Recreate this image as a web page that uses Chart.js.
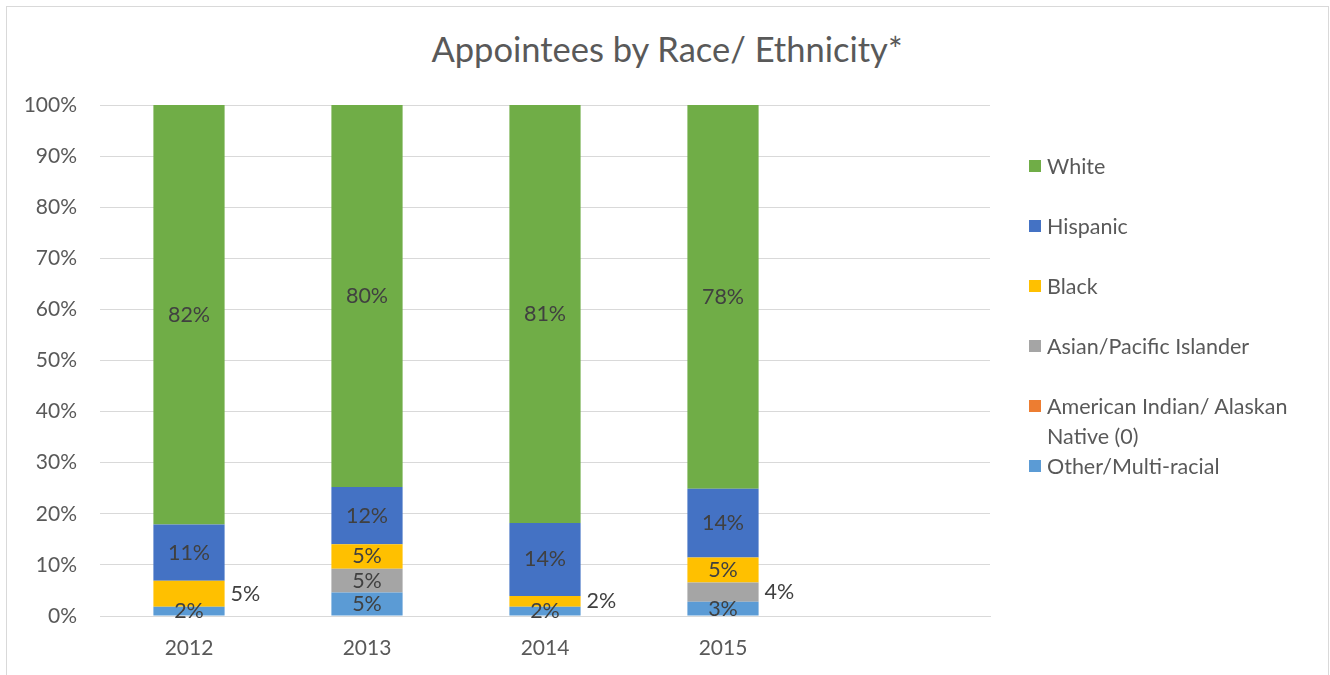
<!DOCTYPE html>
<html lang="en">
<head>
    <meta charset="UTF-8">
    <title>Appointees by Race/ Ethnicity</title>
    <script src="https://cdn.jsdelivr.net/npm/chart.js"></script>
    <style>
        body {
            margin: 0;
            padding: 0;
            background-color: #fff;
            font-family: Lato, "Open Sans", sans-serif;
            overflow: hidden;
        }

        .frame {
            position: absolute;
            left: 6px;
            top: 6px;
            width: 1321px;
            height: 720px;
            border: 1px solid #d9d9d9;
        }

        h1 {
            position: absolute;
            left: 0;
            width: 1334px;
            top: 28px;
            margin: 0;
            text-align: center;
            font-weight: normal;
            font-size: 34.5px;
            color: #595959;
        }

        #chart {
            position: absolute;
            left: 0;
            top: 0;
        }

        .legend-item {
            position: absolute;
            left: 1029px;
            width: 285px;
            font-size: 21.5px;
            line-height: 30px;
            color: #595959;
        }

        .legend-item span.box {
            position: absolute;
            left: 0;
            top: 9px;
            width: 12px;
            height: 12px;
        }

        .legend-item span.text {
            display: block;
            margin-left: 18px;
        }
    </style>
</head>
<body>
    <div class="frame"></div>
    <h1>Appointees by Race/ Ethnicity*</h1>
    <canvas id="chart" width="1330" height="675"></canvas>
    <div id="legend"></div>

    <script>
        // categories (last one is an empty slot, as in the original sheet)
        const years = ['2012', '2013', '2014', '2015', ''];

        // raw values as labelled in the chart (bars are shown as 100% stacked)
        const other    = [1.8, 4.9, 1.8, 2.9, null];
        const amIndian = [0, 0, 0, 0, null];
        const asian    = [0, 5.0, 0, 3.9, null];
        const black    = [5.1, 5.1, 2.1, 5.1, null];
        const hispanic = [11.0, 12.0, 14.2, 14.0, null];
        const white    = [82.1, 80.0, 81.4, 78.2, null];

        const yTicks = [0, 10, 20, 30, 40, 50, 60, 70, 80, 90, 100];

        // which labels sit to the right of the bar instead of inside it
        const outsideLabels = {
            'Black': [true, false, true, false],
            'Asian/Pacific Islander': [false, false, false, true]
        };

        const series = [
            { name: 'Other/Multi-racial', values: other, color: '#5B9BD5' },
            { name: 'American Indian/ Alaskan Native (0)', values: amIndian, color: '#ED7D31' },
            { name: 'Asian/Pacific Islander', values: asian, color: '#A5A5A5' },
            { name: 'Black', values: black, color: '#FFC000' },
            { name: 'Hispanic', values: hispanic, color: '#4472C4' },
            { name: 'White', values: white, color: '#70AD47' }
        ];

        // total per year, used to show each bar as 100%
        const totals = years.map((y, i) =>
            series.reduce((sum, s) => sum + (s.values[i] || 0), 0));

        const datasets = series.map(s => ({
            label: s.name,
            raw: s.values,
            data: s.values.map((v, i) => v === null ? null : v / totals[i] * 100),
            backgroundColor: s.color,
            borderWidth: 0,
            barPercentage: 0.4,
            categoryPercentage: 1.0
        }));

        // draws the percentage labels on the segments
        const segmentLabels = {
            id: 'segmentLabels',
            afterDatasetsDraw(chart) {
                const ctx = chart.ctx;
                ctx.save();
                ctx.font = '21.5px Lato';
                ctx.fillStyle = '#404040';
                ctx.textBaseline = 'middle';
                chart.data.datasets.forEach((ds, di) => {
                    const meta = chart.getDatasetMeta(di);
                    meta.data.forEach((bar, i) => {
                        const v = ds.raw[i];
                        if (!v) return;
                        const text = Math.round(v) + '%';
                        const midY = (bar.y + bar.base) / 2;
                        const outside = outsideLabels[ds.label] && outsideLabels[ds.label][i];
                        if (outside) {
                            ctx.textAlign = 'left';
                            ctx.fillText(text, bar.x + bar.width / 2 + 6, midY);
                        } else {
                            ctx.textAlign = 'center';
                            ctx.fillText(text, bar.x, midY);
                        }
                    });
                });
                ctx.restore();
            }
        };

        const ctx = document.getElementById('chart').getContext('2d');
        const chart = new Chart(ctx, {
            type: 'bar',
            data: { labels: years, datasets: datasets },
            plugins: [segmentLabels],
            options: {
                responsive: false,
                animation: false,
                layout: {
                    padding: { left: 0, top: 105, right: 340, bottom: 0 }
                },
                plugins: {
                    legend: { display: false },
                    tooltip: { enabled: false }
                },
                scales: {
                    x: {
                        stacked: true,
                        grid: { display: false, drawTicks: false },
                        border: { color: '#d9d9d9' },
                        ticks: {
                            color: '#595959',
                            font: { family: 'Lato', size: 21 },
                            padding: 20
                        },
                        afterFit(scale) { scale.height = 59; }
                    },
                    y: {
                        stacked: true,
                        min: 0,
                        max: 100,
                        afterBuildTicks(scale) {
                            scale.ticks = yTicks.map(v => ({ value: v }));
                        },
                        grid: { color: '#d9d9d9', drawTicks: false },
                        border: { display: false },
                        ticks: {
                            color: '#595959',
                            font: { family: 'Lato', size: 21 },
                            padding: 23,
                            callback: v => v + '%'
                        },
                        afterFit(scale) { scale.width = 100; }
                    }
                }
            }
        });

        // legend on the right, top series first
        const legend = document.getElementById('legend');
        series.slice().reverse().forEach((s, i) => {
            const item = document.createElement('div');
            item.className = 'legend-item';
            item.style.top = (151 + i * 60) + 'px';
            item.innerHTML = '<span class="box" style="background:' + s.color + '"></span>' +
                '<span class="text">' + s.name + '</span>';
            legend.appendChild(item);
        });
    </script>
</body>
</html>
